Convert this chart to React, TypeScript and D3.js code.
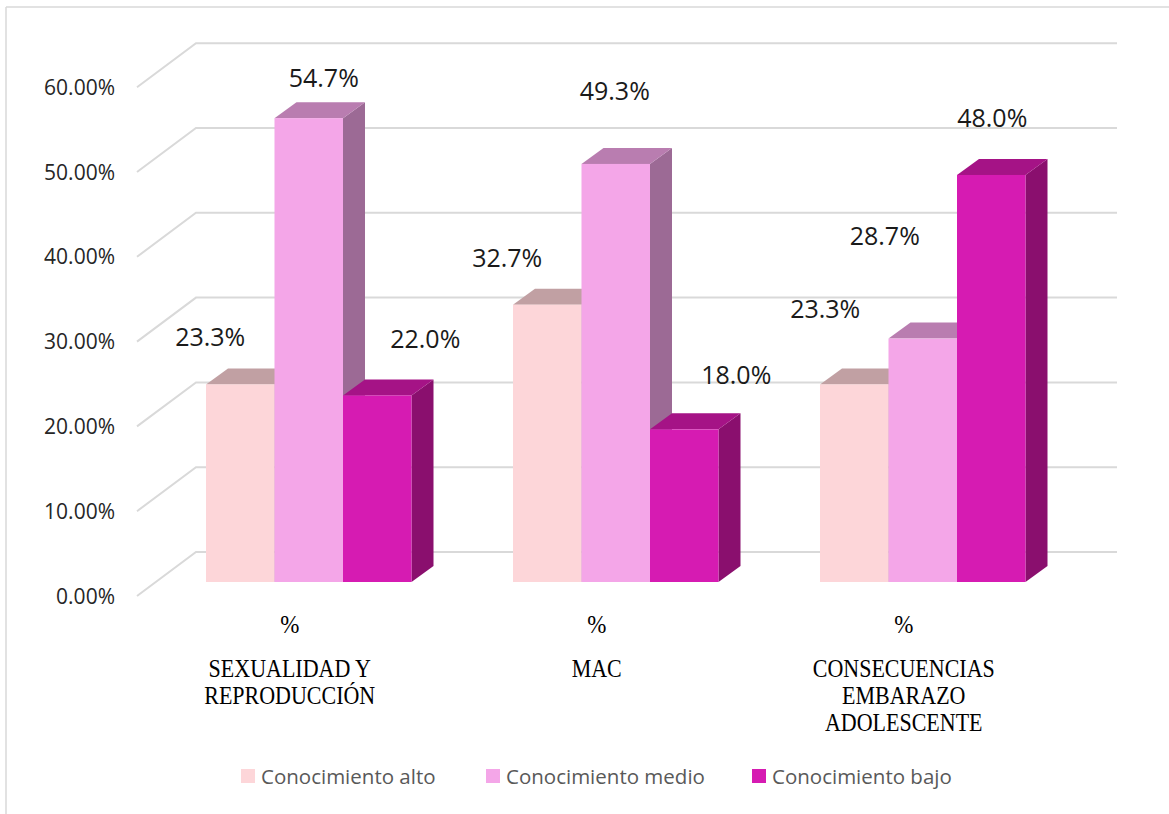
import React from "react";
import * as d3 from "d3";

// ---- data ----
const categories = ["SEXUALIDAD Y REPRODUCCIÓN", "MAC", "CONSECUENCIAS EMBARAZO ADOLESCENTE"];
const categoryLines = [["SEXUALIDAD Y", "REPRODUCCIÓN"], ["MAC"], ["CONSECUENCIAS", "EMBARAZO", "ADOLESCENTE"]];
const seriesNames = ["Conocimiento alto", "Conocimiento medio", "Conocimiento bajo"];
const alto = [23.3, 32.7, 23.3];
const medio = [54.7, 49.3, 28.7];
const bajo = [22.0, 18.0, 48.0];
const yTicks = [0, 10, 20, 30, 40, 50, 60];

// ---- styling / layout ----
const W = 1169;
const H = 814;
const colors = [
  { front: "#FDD6D9", top: "#C1A0A3", side: "#A88A8D" },
  { front: "#F4A6E8", top: "#B97DB0", side: "#9C6A95" },
  { front: "#D61BB2", top: "#A51386", side: "#8A0F6E" },
];
const DEPTH_X = 22;
const DEPTH_Y = 16;
const BACK_OFFSET = 30; // back wall is this many px above bar front plane
const FLOOR_FRONT = 14; // floor front edge is this many px below bar front plane
const DIAG_FRONT_X = 137;
const DIAG_BACK_X = 196;
const GRID_RIGHT = 1117;
// label nudges (Excel 3D label placement), [dx, dy] per category per series
const LABEL_NUDGE = [
  [[-41, -11], [4, -4], [37, -20]],
  [[-51, -11], [-12, -37], [41, -18]],
  [[-40, -39], [-49, -67], [-10, -21]],
];

export default function App() {
  const seriesValues = [alto, medio, bajo];
  const y = d3.scaleLinear().domain([0, 60]).range([582, 73.2]);
  const x0 = d3
    .scaleBand<string>()
    .domain(categories)
    .range([155.25, 1076.25])
    .paddingInner(0.3306)
    .paddingOuter(0.1653);
  const x1 = d3
    .scaleBand<string>()
    .domain(seriesNames)
    .range([0, x0.bandwidth()])
    .padding(0);
  const bw = x1.bandwidth();
  const fmtTick = (v: number) => d3.format(".2f")(v) + "%";
  const fmtVal = (v: number) => d3.format(".1f")(v) + "%";

  const sansFont = "'Open Sans', 'DejaVu Sans', sans-serif";
  const serifFont = "'Liberation Serif', 'Times New Roman', serif";

  return (
    <svg
      width={W}
      height={H}
      viewBox={`0 0 ${W} ${H}`}
      style={{ position: "absolute", left: 0, top: 0, display: "block", background: "#fff" }}
    >
      {/* chart frame */}
      <line x1={6} y1={7} x2={1169} y2={7} stroke="#D9D9D9" strokeWidth={1.5} />
      <line x1={6} y1={7} x2={6} y2={814} stroke="#D9D9D9" strokeWidth={1.5} />

      {/* gridlines: back wall + side-floor diagonal */}
      {yTicks.map((t) => {
        const yb = y(t) - BACK_OFFSET;
        const yf = y(t) + FLOOR_FRONT;
        return (
          <g key={"g" + t}>
            <polyline
              points={`${DIAG_FRONT_X},${yf} ${DIAG_BACK_X},${yb} ${GRID_RIGHT},${yb}`}
              fill="none"
              stroke="#D9D9D9"
              strokeWidth={2}
            />
            <text
              x={115}
              y={yf + 7.5}
              textAnchor="end"
              fontFamily={sansFont}
              fontSize={21}
              fill="#262626"
            >
              {fmtTick(t)}
            </text>
          </g>
        );
      })}

      {/* bars */}
      {categories.map((c, ci) => (
        <g key={"c" + ci}>
          {seriesNames.map((s, si) => {
            const v = seriesValues[si][ci];
            const bx = (x0(c) as number) + (x1(s) as number);
            const by = y(v);
            const b0 = y(0);
            const col = colors[si];
            const top = `${bx},${by} ${bx + bw},${by} ${bx + bw + DEPTH_X},${by - DEPTH_Y} ${bx + DEPTH_X},${by - DEPTH_Y}`;
            const side = `${bx + bw},${by} ${bx + bw + DEPTH_X},${by - DEPTH_Y} ${bx + bw + DEPTH_X},${b0 - DEPTH_Y} ${bx + bw},${b0}`;
            return (
              <g key={s}>
                <polygon points={side} fill={col.side} />
                <polygon points={top} fill={col.top} />
                <rect x={bx} y={by} width={bw} height={b0 - by} fill={col.front} />
              </g>
            );
          })}
        </g>
      ))}

      {/* data labels */}
      {categories.map((c, ci) =>
        seriesNames.map((s, si) => {
          const v = seriesValues[si][ci];
          const bx = (x0(c) as number) + (x1(s) as number);
          const cx = bx + bw / 2 + DEPTH_X / 2 + LABEL_NUDGE[ci][si][0];
          const mid = y(v) - DEPTH_Y - 20 + LABEL_NUDGE[ci][si][1];
          return (
            <text
              key={"l" + ci + si}
              x={cx}
              y={mid + 9}
              textAnchor="middle"
              fontFamily={sansFont}
              fontSize={25}
              fill="#1a1a1a"
            >
              {fmtVal(v)}
            </text>
          );
        })
      )}

      {/* category labels */}
      {categories.map((c, ci) => {
        const cx = (x0(c) as number) + x0.bandwidth() / 2 - 19;
        return (
          <g key={"cat" + ci} fontFamily={serifFont} fill="#000" textAnchor="middle">
            <text x={cx} y={633} fontSize={23} transform={`translate(0,633) scale(1,1.12) translate(0,-633)`}>
              %
            </text>
            {categoryLines[ci].map((ln, li) => {
              const by = 677 + li * 27;
              return (
                <text
                  key={li}
                  x={cx}
                  y={by}
                  fontSize={22}
                  transform={`translate(0,${by}) scale(1,1.18) translate(0,${-by})`}
                >
                  {ln}
                </text>
              );
            })}
          </g>
        );
      })}

      {/* legend */}
      {seriesNames.map((s, si) => {
        const lx = [241, 486, 752][si];
        return (
          <g key={"lg" + si}>
            <rect x={lx} y={769} width={14} height={14} fill={colors[si].front} />
            <text x={lx + 20} y={783.5} fontFamily={sansFont} fontSize={20.5} fill="#595959">
              {s}
            </text>
          </g>
        );
      })}
    </svg>
  );
}
